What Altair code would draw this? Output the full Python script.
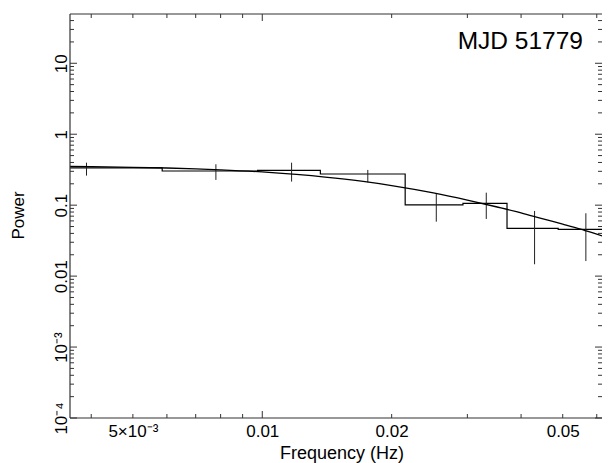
import altair as alt
import pandas as pd

# ---- data ----
freq = [0.0039, 0.0078, 0.0117, 0.0176, 0.0254, 0.0332, 0.0430, 0.0566]
power = [0.335, 0.303, 0.310, 0.275, 0.101, 0.106, 0.0472, 0.0457]
err_lo = [0.261, 0.227, 0.215, 0.210, 0.0585, 0.0639, 0.0147, 0.0163]
err_hi = [0.397, 0.377, 0.397, 0.314, 0.144, 0.150, 0.0828, 0.0769]
bin_edges = [0.00195, 0.00585, 0.00975, 0.01365, 0.0215, 0.0293, 0.0371, 0.0488, 0.0645]

model_f = [0.00357, 0.004, 0.005, 0.006, 0.007, 0.008, 0.010, 0.012, 0.014, 0.017,
           0.020, 0.025, 0.030, 0.035, 0.040, 0.045, 0.050, 0.055, 0.060, 0.0645]
model_p = [0.352, 0.349, 0.342, 0.334, 0.325, 0.315, 0.294, 0.271, 0.249, 0.218,
           0.189, 0.149, 0.118, 0.095, 0.078, 0.064, 0.054, 0.046, 0.039, 0.034]

x_label_values = [0.005, 0.01, 0.02, 0.05]
y_label_values = [1e-4, 1e-3, 0.01, 0.1, 1, 10]
x_major_ticks = [0.01]
x_minor_ticks = [0.004, 0.005, 0.006, 0.007, 0.008, 0.009, 0.02, 0.03, 0.04, 0.05, 0.06]
y_major_ticks = [1e-4, 1e-3, 0.01, 0.1, 1, 10]
y_minor_ticks = [k * 10.0 ** e for e in range(-4, 2) for k in range(2, 10) if k * 10.0 ** e < 49]

annotation = "MJD 51779"
x_title = "Frequency (Hz)"
y_title = "Power"

W, H = 532, 404
FONT = "Liberation Sans"

xscale = alt.Scale(type="log", domain=[0.00357, 0.06171], nice=False)
yscale = alt.Scale(type="log", domain=[1e-4, 49.5], nice=False)

x_axis = alt.Axis(
    values=x_label_values,
    labelExpr="datum.value < 0.007 ? '5×10⁻³' : format(datum.value, '~g')",
    ticks=False, domain=False, grid=False,
    labelFontSize=17, labelPadding=5, labelColor="black", labelFont=FONT,
    title=x_title, titleFontSize=18, titleFontWeight="normal", titleColor="black",
    titleFont=FONT, titleBaseline="alphabetic", titleX=271.5, titleY=40.5,
)
y_axis = alt.Axis(
    values=y_label_values,
    labelExpr="datum.value < 0.0005 ? '10⁻⁴' : datum.value < 0.005 ? '10⁻³' : format(datum.value, '~g')",
    ticks=False, domain=False, grid=False,
    labelAngle=270, labelAlign="center", labelBaseline="alphabetic",
    labelFontSize=17, labelPadding=3.5, labelColor="black", labelFont=FONT,
    title=y_title, titleFontSize=17, titleFontWeight="normal", titleColor="black",
    titleFont=FONT, titleAngle=270, titleAlign="center", titleBaseline="alphabetic",
    titleX=-46.5, titleY=201,
)

hist_df = pd.DataFrame({"f": bin_edges, "p": power + [power[-1]]})
step = alt.Chart(hist_df).mark_line(
    interpolate="step-after", color="black", strokeWidth=1.2, clip=True
).encode(
    x=alt.X("f:Q", scale=xscale, axis=x_axis),
    y=alt.Y("p:Q", scale=yscale, axis=y_axis),
)

err_df = pd.DataFrame({"f": freq, "lo": err_lo, "hi": err_hi})
errs = alt.Chart(err_df).mark_rule(color="#222", strokeWidth=1).encode(
    x=alt.X("f:Q", scale=xscale, title=x_title),
    y=alt.Y("lo:Q", scale=yscale, title=y_title),
    y2="hi:Q",
)

model_df = pd.DataFrame({"f": model_f, "p": model_p})
model = alt.Chart(model_df).mark_line(
    interpolate="monotone", color="black", strokeWidth=1.3, clip=True
).encode(
    x=alt.X("f:Q", scale=xscale, title=x_title),
    y=alt.Y("p:Q", scale=yscale, title=y_title),
)

TICK_COLOR = "#333"
FRAME_COLOR = "#333"
MAJ, MIN = 7, 4


def xticks(vals, length, bottom=True):
    df = pd.DataFrame({"f": vals})
    if bottom:
        yy, yy2 = alt.value(H), alt.value(H - length)
    else:
        yy, yy2 = alt.value(0), alt.value(length)
    return alt.Chart(df).mark_rule(color=TICK_COLOR, strokeWidth=1).encode(
        x=alt.X("f:Q", scale=xscale, title=x_title), y=yy, y2=yy2
    )


def yticks(vals, length, left=True):
    df = pd.DataFrame({"p": vals})
    if left:
        xx, xx2 = alt.value(0), alt.value(length)
    else:
        xx, xx2 = alt.value(W), alt.value(W - length)
    return alt.Chart(df).mark_rule(color=TICK_COLOR, strokeWidth=1).encode(
        y=alt.Y("p:Q", scale=yscale, title=y_title), x=xx, x2=xx2
    )


frame_top = alt.Chart(pd.DataFrame({"k": [0]})).mark_rule(color=FRAME_COLOR, strokeWidth=1.2).encode(
    x=alt.value(0), x2=alt.value(W), y=alt.value(0))
frame_bottom = alt.Chart(pd.DataFrame({"k": [0]})).mark_rule(color=FRAME_COLOR, strokeWidth=1.2).encode(
    x=alt.value(0), x2=alt.value(W), y=alt.value(H))
frame_left = alt.Chart(pd.DataFrame({"k": [0]})).mark_rule(color=FRAME_COLOR, strokeWidth=1.2).encode(
    x=alt.value(0), y=alt.value(0), y2=alt.value(H))

ann = alt.Chart(pd.DataFrame({"t": [annotation]})).mark_text(
    align="right", baseline="alphabetic", fontSize=24.5, font=FONT, color="black"
).encode(text="t:N", x=alt.value(513), y=alt.value(35.3))

chart = alt.layer(
    step, errs, model,
    xticks(x_major_ticks, MAJ, True), xticks(x_minor_ticks, MIN, True),
    xticks(x_major_ticks, MAJ, False), xticks(x_minor_ticks, MIN, False),
    yticks(y_major_ticks, MAJ, True), yticks(y_minor_ticks, MIN, True),
    yticks(y_major_ticks, MAJ, False), yticks(y_minor_ticks, MIN, False),
    frame_top, frame_bottom, frame_left,
    ann,
).properties(
    width=W, height=H,
    autosize=alt.AutoSizeParams(type="none"),
    padding={"left": 62, "top": 6, "right": 0, "bottom": 45},
).configure_view(
    stroke=None
)

chart.save("out.html", embed_options={"renderer": "svg", "actions": False})
